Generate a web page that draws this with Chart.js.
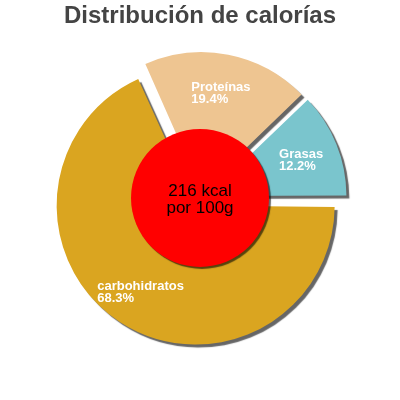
<!DOCTYPE html>
<html>
<head>
<meta charset="utf-8">
<script src="https://cdn.jsdelivr.net/npm/chart.js@4.4.1/dist/chart.umd.min.js"></script>
<style>
    html, body { margin: 0; padding: 0; background: #ffffff; }
    canvas { display: block; }
</style>
</head>
<body>
<canvas id="chart" width="400" height="400"></canvas>
<script>
const categories = ["carbohidratos", "Proteínas", "Grasas"];
const percentages = [68.3, 19.4, 12.2];
const sliceColors = ["#DAA520", "#EEC591", "#7AC5CD"];
const energyKcal = 216;
const energyLines = [energyKcal + " kcal", "por 100g"];

const FONT = "'Liberation Sans', Arial, sans-serif";
const PIE_RADIUS = 139;
const SLICE_SHIFT = 8; // px every slice is pulled out from the centre

// drop shadow under every slice.
// Chart.js moves an arc by offset/4 but also grows big arcs by offset/4 * fix,
// so take that growth back off before drawing
const sliceShadow = {
    id: "sliceShadow",
    beforeDatasetsDraw(chart) {
        chart.getDatasetMeta(0).data.forEach((arc) => {
            const fix = 1 - Math.sin(Math.min(Math.PI, arc.circumference || 0));
            arc.outerRadius = PIE_RADIUS - ((arc.options.offset || 0) / 4) * fix;
        });
        const ctx = chart.ctx;
        ctx.save();
        ctx.shadowColor = "rgba(0, 0, 0, 0.6)";
        ctx.shadowOffsetX = 3;
        ctx.shadowOffsetY = 3;
        ctx.shadowBlur = 1;
    },
    afterDatasetsDraw(chart) {
        chart.ctx.restore();
    },
};

// red disc with the energy text in the middle
const centerDisc = {
    id: "centerDisc",
    afterDatasetsDraw(chart) {
        const ctx = chart.ctx;
        const arc = chart.getDatasetMeta(0).data[0];
        const x = arc.x;
        const y = arc.y - 1;
        ctx.save();
        ctx.shadowColor = "rgba(0, 0, 0, 0.6)";
        ctx.shadowOffsetX = 2;
        ctx.shadowOffsetY = 2;
        ctx.shadowBlur = 1;
        ctx.fillStyle = "#FF0000";
        ctx.beginPath();
        ctx.arc(x, y, 69, 0, Math.PI * 2);
        ctx.fill();
        ctx.restore();

        ctx.save();
        ctx.fillStyle = "#000000";
        ctx.font = "17px " + FONT;
        ctx.textAlign = "center";
        ctx.textBaseline = "alphabetic";
        ctx.fillText(energyLines[0], x, y - 2);
        ctx.fillText(energyLines[1], x, y + 15);
        ctx.restore();
    },
};

// name + percentage inside each slice
const sliceLabels = {
    id: "sliceLabels",
    afterDatasetsDraw(chart) {
        const ctx = chart.ctx;
        const meta = chart.getDatasetMeta(0);
        ctx.save();
        ctx.fillStyle = "#FFFFFF";
        ctx.font = "bold 13px " + FONT;
        ctx.textAlign = "left";
        ctx.textBaseline = "alphabetic";
        meta.data.forEach((arc, i) => {
            const p = arc.getProps(["x", "y", "startAngle", "endAngle"], true);
            const mid = (p.startAngle + p.endAngle) / 2;
            const dist = SLICE_SHIFT + PIE_RADIUS - 38;
            const px = p.x + Math.cos(mid) * dist;
            const py = p.y + Math.sin(mid) * dist;
            const line1 = categories[i];
            const line2 = percentages[i].toFixed(1) + "%";
            const w = Math.max(ctx.measureText(line1).width, ctx.measureText(line2).width);
            const left = px - w / 2;
            ctx.fillText(line1, left, py - 0.5);
            ctx.fillText(line2, left, py + 11.5);
        });
        ctx.restore();
    },
};

new Chart(document.getElementById("chart"), {
    type: "pie",
    data: {
        labels: categories,
        datasets: [{
            data: percentages,
            backgroundColor: sliceColors,
            borderWidth: 0,
            offset: SLICE_SHIFT * 4,
            radius: PIE_RADIUS,
        }],
    },
    options: {
        responsive: false,
        devicePixelRatio: 1,
        animation: false,
        events: [],
        rotation: 90,
        layout: {
            padding: { top: 0, bottom: 33, left: 0, right: 0 },
        },
        plugins: {
            legend: { display: false },
            tooltip: { enabled: false },
            title: {
                display: true,
                text: "Distribución de calorías",
                color: "#444444",
                font: { family: FONT, size: 24, weight: "bold", lineHeight: 1.2 },
                padding: { top: 2, bottom: 0 },
            },
        },
    },
    plugins: [sliceShadow, centerDisc, sliceLabels],
});
</script>
</body>
</html>
